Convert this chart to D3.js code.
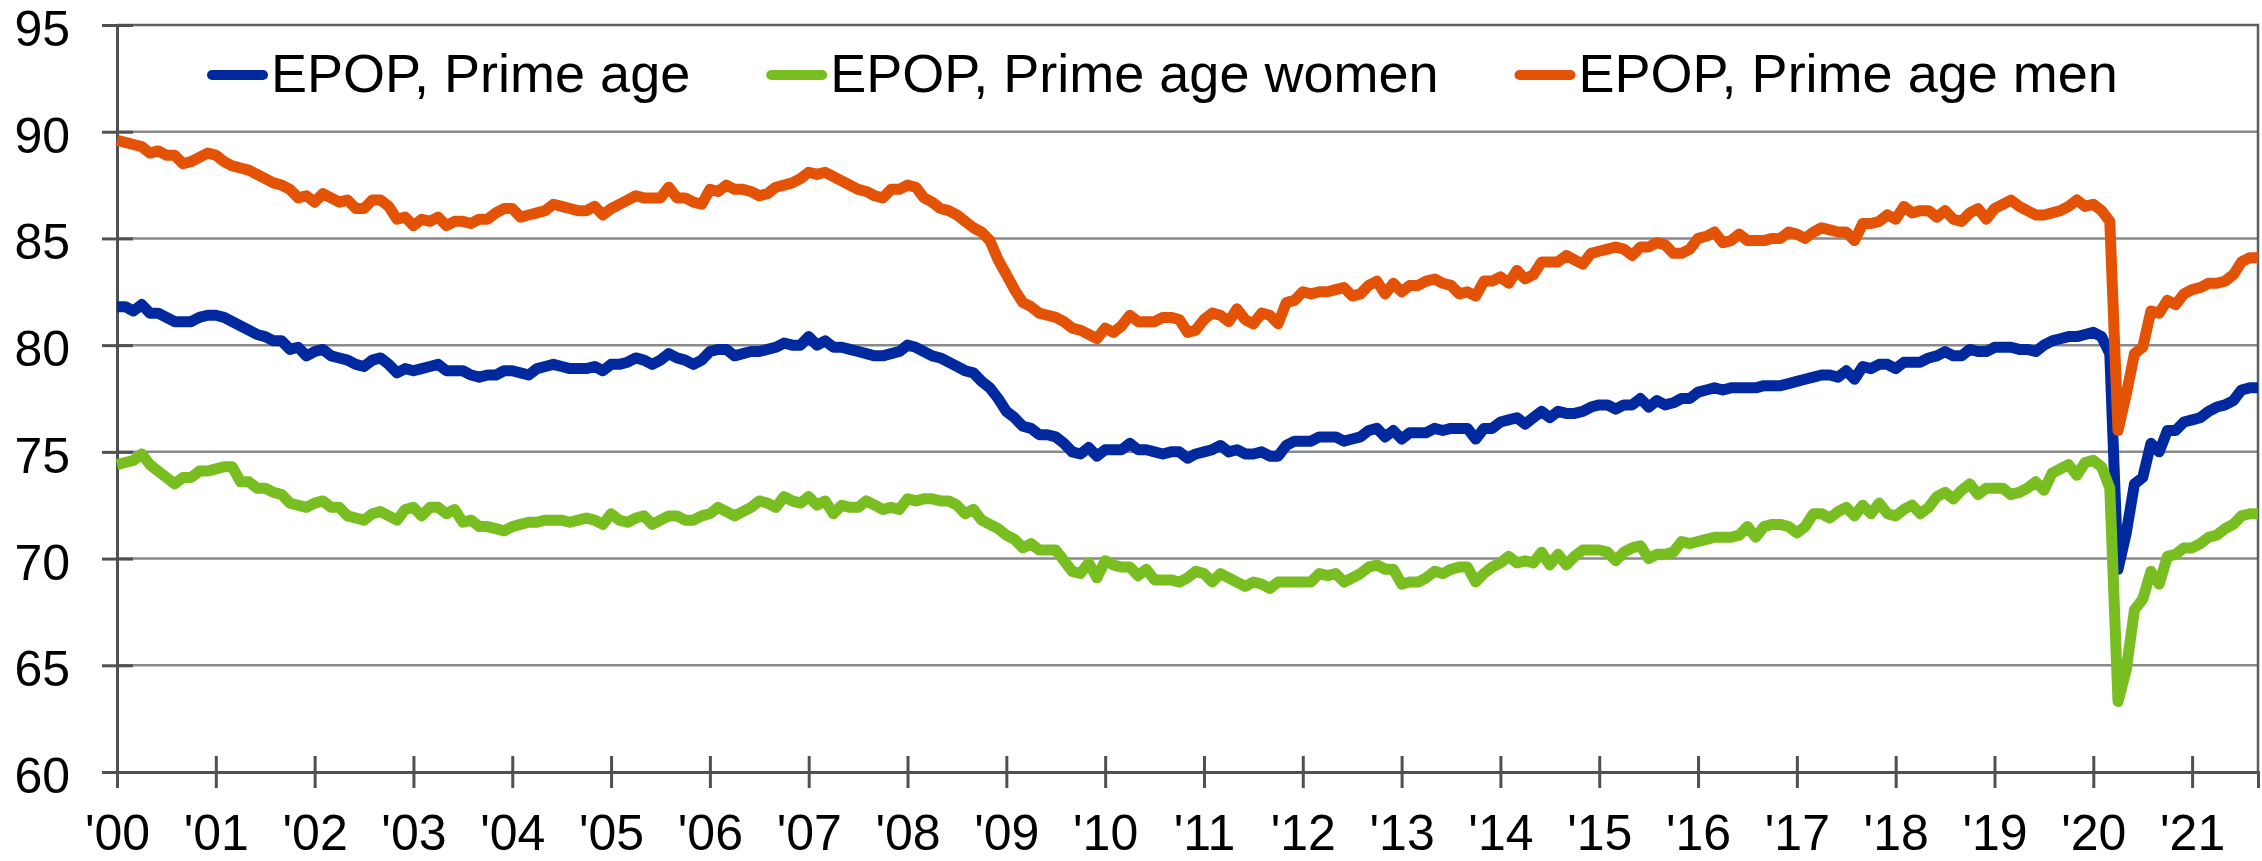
<!DOCTYPE html>
<html><head><meta charset="utf-8">
<script src="https://cdn.jsdelivr.net/npm/d3@7"></script>
<style>html,body{margin:0;padding:0;background:#fff;} svg{display:block;}</style>
</head><body><svg id="chart" width="2262" height="861"></svg>
<script>
const yearLabels = ["'00","'01","'02","'03","'04","'05","'06","'07","'08","'09","'10","'11","'12","'13","'14","'15","'16","'17","'18","'19","'20","'21"];
const yTicks = [60, 65, 70, 75, 80, 85, 90, 95];
const seriesNames = ["EPOP, Prime age", "EPOP, Prime age women", "EPOP, Prime age men"];

// Monthly, Jan 2000 - Sep 2021
const primeAge = [
81.8,81.8,81.6,81.9,81.5,81.5,81.3,81.1,81.1,81.1,81.3,81.4,
81.4,81.3,81.1,80.9,80.7,80.5,80.4,80.2,80.2,79.8,79.9,79.5,
79.7,79.8,79.5,79.4,79.3,79.1,79.0,79.3,79.4,79.1,78.7,78.9,
78.8,78.9,79.0,79.1,78.8,78.8,78.8,78.6,78.5,78.6,78.6,78.8,
78.8,78.7,78.6,78.9,79.0,79.1,79.0,78.9,78.9,78.9,79.0,78.8,
79.1,79.1,79.2,79.4,79.3,79.1,79.3,79.6,79.4,79.3,79.1,79.3,
79.7,79.8,79.8,79.5,79.6,79.7,79.7,79.8,79.9,80.1,80.0,80.0,
80.4,80.0,80.2,79.9,79.9,79.8,79.7,79.6,79.5,79.5,79.6,79.7,
80.0,79.9,79.7,79.5,79.4,79.2,79.0,78.8,78.7,78.3,78.0,77.5,
76.9,76.6,76.2,76.1,75.8,75.8,75.7,75.4,75.0,74.9,75.2,74.8,
75.1,75.1,75.1,75.4,75.1,75.1,75.0,74.9,75.0,75.0,74.7,74.9,
75.0,75.1,75.3,75.0,75.1,74.9,74.9,75.0,74.8,74.8,75.3,75.5,
75.5,75.5,75.7,75.7,75.7,75.5,75.6,75.7,76.0,76.1,75.7,76.0,
75.6,75.9,75.9,75.9,76.1,76.0,76.1,76.1,76.1,75.6,76.1,76.1,
76.4,76.5,76.6,76.3,76.6,76.9,76.6,76.9,76.8,76.8,76.9,77.1,
77.2,77.2,77.0,77.2,77.2,77.5,77.1,77.4,77.2,77.3,77.5,77.5,
77.8,77.9,78.0,77.9,78.0,78.0,78.0,78.0,78.1,78.1,78.1,78.2,
78.3,78.4,78.5,78.6,78.6,78.5,78.8,78.4,79.0,78.9,79.1,79.1,
78.9,79.2,79.2,79.2,79.4,79.5,79.7,79.5,79.5,79.8,79.7,79.7,
79.9,79.9,79.9,79.8,79.8,79.7,80.0,80.2,80.3,80.4,80.4,80.5,
80.6,80.4,79.6,69.5,71.2,73.5,73.8,75.4,75.0,76.0,76.0,76.4,
76.5,76.6,76.9,77.1,77.2,77.4,77.9,78.0,78.0];

const primeAgeWomen = [
74.4,74.5,74.6,74.9,74.4,74.1,73.8,73.5,73.8,73.8,74.1,74.1,
74.2,74.3,74.3,73.6,73.6,73.3,73.3,73.1,73.0,72.6,72.5,72.4,
72.6,72.7,72.4,72.4,72.0,71.9,71.8,72.1,72.2,72.0,71.8,72.3,
72.4,72.0,72.4,72.4,72.1,72.3,71.7,71.8,71.5,71.5,71.4,71.3,
71.5,71.6,71.7,71.7,71.8,71.8,71.8,71.7,71.8,71.9,71.8,71.6,
72.1,71.8,71.7,71.9,72.0,71.6,71.8,72.0,72.0,71.8,71.8,72.0,
72.1,72.4,72.2,72.0,72.2,72.4,72.7,72.6,72.4,72.9,72.7,72.6,
72.9,72.5,72.7,72.1,72.5,72.4,72.4,72.7,72.5,72.3,72.4,72.3,
72.8,72.7,72.8,72.8,72.7,72.7,72.5,72.1,72.3,71.8,71.6,71.4,
71.1,70.9,70.5,70.7,70.4,70.4,70.4,69.9,69.4,69.3,69.8,69.1,
69.9,69.7,69.6,69.6,69.2,69.5,69.0,69.0,69.0,68.9,69.1,69.4,
69.3,68.9,69.3,69.1,68.9,68.7,68.9,68.8,68.6,68.9,68.9,68.9,
68.9,68.9,69.3,69.2,69.3,68.9,69.1,69.3,69.6,69.7,69.5,69.5,
68.8,68.9,68.9,69.1,69.4,69.3,69.5,69.6,69.6,68.9,69.3,69.6,
69.8,70.1,69.8,69.9,69.8,70.3,69.7,70.2,69.7,70.1,70.4,70.4,
70.4,70.3,69.9,70.3,70.5,70.6,70.0,70.2,70.2,70.3,70.8,70.7,
70.8,70.9,71.0,71.0,71.0,71.1,71.5,71.0,71.5,71.6,71.6,71.5,
71.2,71.5,72.1,72.1,71.9,72.2,72.4,72.0,72.5,72.1,72.6,72.1,
72.0,72.3,72.5,72.1,72.4,72.9,73.1,72.8,73.2,73.5,73.0,73.3,
73.3,73.3,73.0,73.1,73.3,73.6,73.2,74.0,74.2,74.4,73.9,74.5,
74.6,74.3,73.3,63.3,64.8,67.6,68.1,69.4,68.8,70.1,70.2,70.5,
70.5,70.7,71.0,71.1,71.4,71.6,72.0,72.1,72.1];

const primeAgeMen = [
89.6,89.5,89.4,89.3,89.0,89.1,88.9,88.9,88.5,88.6,88.8,89.0,
88.9,88.6,88.4,88.3,88.2,88.0,87.8,87.6,87.5,87.3,86.9,87.0,
86.7,87.1,86.9,86.7,86.8,86.4,86.4,86.8,86.8,86.5,85.9,86.0,
85.6,85.9,85.8,86.0,85.6,85.8,85.8,85.7,85.9,85.9,86.2,86.4,
86.4,86.0,86.1,86.2,86.3,86.6,86.5,86.4,86.3,86.3,86.5,86.1,
86.4,86.6,86.8,87.0,86.9,86.9,86.9,87.4,86.9,86.9,86.7,86.6,
87.3,87.2,87.5,87.3,87.3,87.2,87.0,87.1,87.4,87.5,87.6,87.8,
88.1,88.0,88.1,87.9,87.7,87.5,87.3,87.2,87.0,86.9,87.3,87.3,
87.5,87.4,86.9,86.7,86.4,86.3,86.1,85.8,85.5,85.3,84.9,84.0,
83.3,82.6,82.0,81.8,81.5,81.4,81.3,81.1,80.8,80.7,80.5,80.3,
80.8,80.6,80.9,81.4,81.1,81.1,81.1,81.3,81.3,81.2,80.6,80.7,
81.2,81.5,81.4,81.1,81.7,81.2,81.0,81.5,81.4,81.0,82.0,82.1,
82.5,82.4,82.5,82.5,82.6,82.7,82.3,82.4,82.8,83.0,82.4,82.9,
82.5,82.8,82.8,83.0,83.1,82.9,82.8,82.4,82.5,82.3,83.0,83.0,
83.2,82.9,83.5,83.1,83.3,83.9,83.9,83.9,84.2,84.0,83.8,84.3,
84.4,84.5,84.6,84.5,84.2,84.6,84.6,84.8,84.7,84.3,84.3,84.5,
85.0,85.1,85.3,84.8,84.9,85.2,84.9,84.9,84.9,85.0,85.0,85.3,
85.2,85.0,85.3,85.5,85.4,85.3,85.3,84.9,85.7,85.7,85.8,86.1,
85.9,86.5,86.2,86.3,86.3,86.0,86.3,85.9,85.8,86.2,86.4,85.9,
86.4,86.6,86.8,86.5,86.3,86.1,86.1,86.2,86.3,86.5,86.8,86.5,
86.6,86.3,85.8,76.0,77.7,79.6,79.9,81.6,81.5,82.1,81.9,82.4,
82.6,82.7,82.9,82.9,83.0,83.3,83.9,84.1,84.1];

const seriesData = [primeAge, primeAgeWomen, primeAgeMen];
const seriesColors = ["#0029A0", "#78BE21", "#E35205"];

(function () {
const W = 2262, H = 861;
const mLeft = 117, mRight = 2258, mTop = 25, mBottom = 772;
const FONT = "'Liberation Sans', Arial, Helvetica, sans-serif";

const svg = d3.select("#chart");
svg.append("rect").attr("width", W).attr("height", H).attr("fill", "#fff");

const x = d3.scaleLinear().domain([0, primeAge.length - 1]).range([mLeft, mRight]);
const y = d3.scaleLinear().domain([60, 95]).range([mBottom, mTop]);

// gridlines
svg.append("g").selectAll("line").data(yTicks.filter(d => d > 60 && d < 95)).join("line")
  .attr("x1", mLeft).attr("x2", mRight)
  .attr("y1", d => y(d)).attr("y2", d => y(d))
  .attr("stroke", "#8a8a8a").attr("stroke-width", 2.5);

// plot border (top / right)
svg.append("path")
  .attr("d", `M${mLeft},${y(95)}H${mRight}V${mBottom}`)
  .attr("fill", "none").attr("stroke", "#5a5d62").attr("stroke-width", 2.5);

// y axis
const yAxis = svg.append("g").attr("transform", `translate(${mLeft},0)`)
  .call(d3.axisLeft(y).tickValues(yTicks).tickSize(15).tickPadding(32).tickFormat(d3.format("d")));
yAxis.select(".domain").attr("stroke", "#4d5055").attr("stroke-width", 3);
yAxis.selectAll(".tick line").attr("x1", 16).attr("x2", -15).attr("stroke", "#4d5055").attr("stroke-width", 3);
yAxis.selectAll(".tick text").attr("font-family", FONT).attr("font-size", 50).attr("fill", "#000").attr("dy", "0.41em");

// x axis
const xTickVals = yearLabels.map((d, i) => i * 12);
const xAxis = svg.append("g").attr("transform", `translate(0,${mBottom})`)
  .call(d3.axisBottom(x).tickValues(xTickVals).tickSize(16).tickPadding(26).tickFormat((d, i) => yearLabels[i]));
xAxis.select(".domain").attr("stroke", "#4d5055").attr("stroke-width", 3);
xAxis.selectAll(".tick line").attr("y1", -16).attr("y2", 16).attr("stroke", "#4d5055").attr("stroke-width", 3);
xAxis.selectAll(".tick text").attr("font-family", FONT).attr("font-size", 50).attr("fill", "#000");

// series lines
const line = d3.line().x((d, i) => x(i)).y(d => y(d));
svg.append("g").selectAll("path").data(seriesData).join("path")
  .attr("d", d => line(d))
  .attr("fill", "none")
  .attr("stroke", (d, i) => seriesColors[i])
  .attr("stroke-width", 11)
  .attr("stroke-linejoin", "round");

// legend
const legend = svg.append("g");
let lx = 207;
const ly = 75;
seriesNames.forEach((name, i) => {
  legend.append("line").attr("x1", lx + 5).attr("x2", lx + 56).attr("y1", ly).attr("y2", ly)
    .attr("stroke", seriesColors[i]).attr("stroke-width", 10).attr("stroke-linecap", "round");
  const t = legend.append("text").attr("x", lx + 64).attr("y", ly + 17)
    .attr("font-family", FONT).attr("font-size", 54).attr("fill", "#000").text(name);
  lx = lx + 64 + t.node().getComputedTextLength() + 76;
});
})();
</script>
</body></html>
